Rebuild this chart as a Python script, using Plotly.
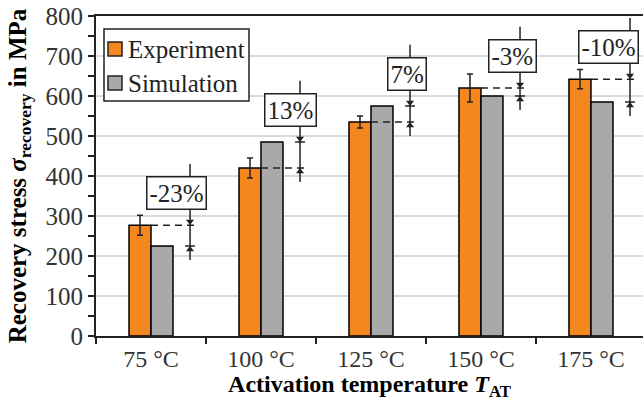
import plotly.graph_objects as go

# Recovery stress per activation temperature
temperatures = ["75 °C", "100 °C", "125 °C", "150 °C", "175 °C"]
experiment = [277, 420, 535, 620, 642]
experiment_err = [25, 25, 15, 35, 24]
simulation = [225, 485, 575, 600, 585]
series_names = ["Experiment", "Simulation"]

ORANGE = "#F5871F"
GREY = "#A9A9A9"
INK = "#222222"
FONT = "Liberation Serif"
X_RANGE = [-0.5, 4.473]

fig = go.Figure()
fig.add_trace(go.Bar(
    name=series_names[0], x=temperatures, y=experiment,
    marker=dict(color=ORANGE, line=dict(color="black", width=1.5)),
    error_y=dict(type="data", array=experiment_err, color=INK,
                 thickness=1.5, width=3),
))
fig.add_trace(go.Bar(
    name=series_names[1], x=temperatures, y=simulation,
    marker=dict(color=GREY, line=dict(color="black", width=1.5)),
))

# Dimension lines showing the relative deviation (simulation vs. experiment)
dim_off = 0.355      # vertical dimension line, right of each group (category units)
tick_half = 0.045    # half length of the small level ticks
arrow_x, arrow_hi, arrow_lo = [], [], []
for i, (e, s) in enumerate(zip(experiment, simulation)):
    xl = i + dim_off
    hi, lo = max(e, s), min(e, s)
    # dashed reference line at the experimental level
    fig.add_shape(type="line", xref="x", yref="y", x0=i, x1=xl + tick_half,
                  y0=e, y1=e, line=dict(color=INK, width=1.5, dash="7px,5px"),
                  layer="above")
    # small tick at the simulated level
    fig.add_shape(type="line", xref="x", yref="y", x0=xl - tick_half,
                  x1=xl + tick_half, y0=s, y1=s,
                  line=dict(color=INK, width=1.5), layer="above")
    # vertical dimension line
    fig.add_shape(type="line", xref="x", yref="y", x0=xl, x1=xl,
                  y0=lo - 35, y1=hi + 153,
                  line=dict(color=INK, width=1.5), layer="above")
    arrow_x.append(xl)
    arrow_hi.append(hi)
    arrow_lo.append(lo)
    # percentage label box
    pct = round((s - e) / s * 100)
    fig.add_annotation(x=xl, y=hi + 38, xref="x", yref="y",
                       text=f"{pct}%", showarrow=False,
                       xanchor="right", yanchor="bottom",
                       xshift=17 if i < len(temperatures) - 1 else 9,
                       font=dict(family=FONT, size=25, color=INK),
                       bgcolor="white", bordercolor=INK,
                       borderwidth=1.5, borderpad=2)

# arrow heads pointing onto both levels from outside (numeric overlay axis)
fig.add_trace(go.Scatter(x=arrow_x, y=[v + 9 for v in arrow_hi], mode="markers",
                         marker=dict(symbol="triangle-down", size=7, color=INK),
                         xaxis="x2", showlegend=False, hoverinfo="skip"))
fig.add_trace(go.Scatter(x=arrow_x, y=[v - 9 for v in arrow_lo], mode="markers",
                         marker=dict(symbol="triangle-up", size=7, color=INK),
                         xaxis="x2", showlegend=False, hoverinfo="skip"))


# Hand-drawn legend box (paper coordinates of the plot area)
def px_x(p):
    return (p - 96) / 547


def px_y(p):
    return (336 - p) / 320


fig.add_shape(type="rect", xref="paper", yref="paper",
              x0=px_x(104), x1=px_x(249), y0=px_y(101), y1=px_y(29),
              fillcolor="white", line=dict(color=INK, width=1.5), layer="above")
for name, color, cy in zip(series_names, [ORANGE, GREY], [49, 83]):
    fig.add_shape(type="rect", xref="paper", yref="paper",
                  x0=px_x(108), x1=px_x(122), y0=px_y(cy + 7), y1=px_y(cy - 7),
                  fillcolor=color, line=dict(color=INK, width=1.5), layer="above")
    fig.add_annotation(x=px_x(126), y=px_y(cy), xref="paper", yref="paper",
                       text=name, showarrow=False, xanchor="left", yanchor="middle",
                       font=dict(family=FONT, size=25, color=INK))

fig.update_layout(
    width=643, height=401,
    margin=dict(l=96, r=0, t=16, b=65),
    paper_bgcolor="white", plot_bgcolor="white",
    barmode="group", bargap=0.6, bargroupgap=0,
    font=dict(family=FONT, size=24, color="#333333"),
    showlegend=False,
    xaxis=dict(
        range=X_RANGE,
        showline=True, linecolor=INK, linewidth=2, mirror=True,
        ticks="outside", tickson="boundaries", ticklen=6, tickwidth=2,
        tickcolor=INK, showgrid=False,
        tickfont=dict(family=FONT, size=24, color="#333333"),
        title=dict(text="<b>Activation temperature <i>T</i><sub>AT</sub></b>",
                   font=dict(family=FONT, size=24, color="black"), standoff=1),
    ),
    xaxis2=dict(overlaying="x", range=X_RANGE, visible=False),
    yaxis=dict(
        range=[0, 800], dtick=100,
        showline=True, linecolor=INK, linewidth=2,
        ticks="outside", ticklen=6, tickwidth=2, tickcolor=INK,
        minor=dict(dtick=50, ticks="outside", ticklen=6, tickwidth=1.5,
                   tickcolor=INK, showgrid=False),
        showgrid=True, gridcolor="#DADADA", gridwidth=1.5, zeroline=False,
        tickfont=dict(family=FONT, size=25, color="#333333"),
        title=dict(text="<b>Recovery stress <i>σ</i><sub>recovery</sub> in MPa</b>",
                   font=dict(family=FONT, size=25, color="black"), standoff=12),
    ),
)

fig.write_html("out.html")
